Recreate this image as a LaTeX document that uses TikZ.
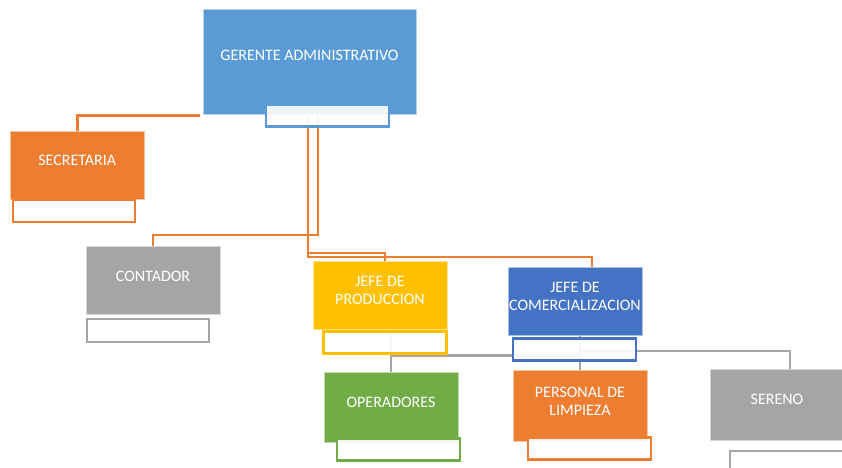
\documentclass[tikz,border=0pt]{standalone}
\usepackage{fontspec}
\setmainfont{Carlito}
\definecolor{cblue}{HTML}{5B9BD5}
\definecolor{corange}{HTML}{ED7D31}
\definecolor{cgray}{HTML}{A5A5A5}
\definecolor{cyellow}{HTML}{FFC000}
\definecolor{cdblue}{HTML}{4472C4}
\definecolor{cgreen}{HTML}{70AD47}
\pgfdeclarelayer{bg}
\pgfsetlayers{bg,main}
\begin{document}
\begin{tikzpicture}[x=1pt,y=-1pt]
\tikzset{
 mbox/.style={draw=#1!45!white, line width=0.7pt, fill=#1, minimum width=134pt, minimum height=68pt, inner sep=0pt},
 sbox/.style={draw=#1, line width=2.3pt, fill=white, fill opacity=0.9, minimum width=123pt, minimum height=22pt, inner sep=0pt},
 txt/.style={text=white, font=\fontsize{16}{18}\selectfont, align=center, inner sep=0pt},
 oline/.style={draw=corange, line width=2.5pt},
 gline/.style={draw=cgray, line width=2.5pt},
}
\useasboundingbox (0,0) rectangle (842,467);
\clip (0,0) rectangle (842,467);

% boxes
\node[mbox=cblue, minimum width=213pt, minimum height=105pt] (ger) at (309.5,61.5) {};
\node[mbox=corange] (sec) at (77.25,165) {};
\node[mbox=cgray] (con) at (153,280) {};
\node[mbox=cyellow] (jp) at (380,295) {};
\node[mbox=cdblue] (jc) at (575,301) {};
\node[mbox=cgreen, minimum height=70pt] (op) at (391,407) {};
\node[mbox=corange, minimum height=71pt] (pl) at (580,405.5) {};
\node[mbox=cgray, minimum height=71pt] (se) at (777,404.5) {};

% sub-boxes
\node[sbox=cblue] (gerS) at (327.5,115.5) {};
\node[sbox=corange, minimum width=122pt] (secS) at (74,211) {};
\node[sbox=cgray, minimum width=122pt, minimum height=23pt] (conS) at (148,330.5) {};
\node[sbox=cyellow] (jpS) at (385,342.5) {};
\node[sbox=cdblue] (jcS) at (574.5,349.5) {};
\node[sbox=cgreen] (opS) at (398.5,449.5) {};
\node[sbox=corange] (plS) at (589.5,448.5) {};
\node[sbox=cgray] (seS) at (791.5,462) {};

% texts
\node[txt] (gerT) at ([yshift=6.5pt]ger.center) {GERENTE ADMINISTRATIVO};
\node[txt] (secT) at ([yshift=5pt]sec.center) {SECRETARIA};
\node[txt] (conT) at ([yshift=4pt]con.center) {CONTADOR};
\node[txt] (jpT) at ([yshift=4.5pt]jp.center) {JEFE DE\\PRODUCCION};
\node[txt] (jcT) at ([yshift=4.3pt]jc.center) {JEFE DE\\COMERCIALIZACION};
\node[txt] (opT) at ([yshift=5pt]op.center) {OPERADORES};
\node[txt] (plT) at ([yshift=4.5pt]pl.center) {PERSONAL DE\\LIMPIEZA};
\node[txt] (seT) at ([yshift=5pt]se.center) {SERENO};

% bend coordinates
\coordinate (b1) at (318,235);
\coordinate (b2) at (308,253);
\coordinate (b3) at (308,257);
\coordinate (g2) at (580,351);

\begin{pgfonlayer}{bg}
% orange connectors
\draw[oline] ([xshift=-3pt,yshift=-1pt]ger.south west) -| (sec.north);
\draw[oline] (ger.south -| b1) -- (b1) -| (con.north);
\draw[oline] (ger.south -| b3) -- (b3) -| ([xshift=17pt]jc.north);
\draw[oline] (b2) -| ([xshift=5pt]jp.north);
% gray connectors
\draw[gline] (jp.south -| op.north) -- (op.north);
\draw[gline] ([yshift=-1pt]jpS.south -| op.north) -- ([yshift=-1pt]jpS.south -| pl.north);
\draw[gline] (jc.south -| pl.north) -- (pl.north);
\draw[gline] (g2) -| ([xshift=13pt]se.north);
\end{pgfonlayer}
\end{tikzpicture}
\end{document}
